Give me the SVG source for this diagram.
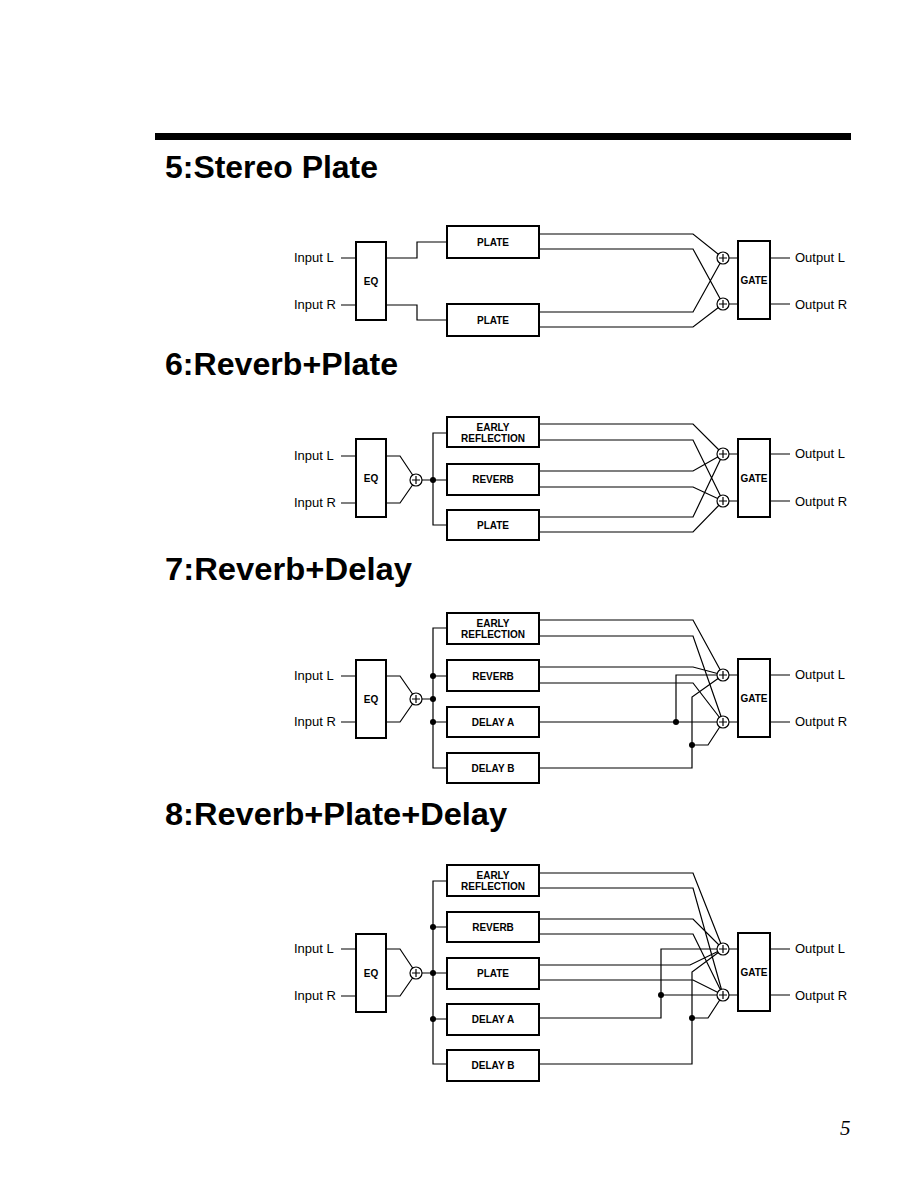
<svg xmlns="http://www.w3.org/2000/svg" width="918" height="1188" viewBox="0 0 918 1188">
<style>
.bg{fill:#fff}
.box{fill:#fff;stroke:#000;stroke-width:2}
.ln{fill:none;stroke:#000;stroke-width:1.2;stroke-linejoin:miter}
.title{font-family:"Liberation Sans",Arial,sans-serif;font-weight:bold;font-size:32px;fill:#000}
.io{font-family:"Liberation Sans",Arial,sans-serif;font-size:13px;fill:#000}
.bl{font-family:"Liberation Sans",Arial,sans-serif;font-weight:bold;font-size:10px;fill:#000;text-anchor:middle}
.pg{font-family:"Liberation Serif","Times New Roman",serif;font-style:italic;font-size:21px;fill:#000}
.dot{fill:#000}
</style>
<defs>
<g id="sum"><circle r="6" fill="#fff" stroke="#000" stroke-width="1.2"/><path d="M-4 0H4M0 -4V4" stroke="#000" stroke-width="1.2"/></g>
</defs>
<rect class="bg" x="0" y="0" width="918" height="1188"/>
<rect x="155" y="133" width="696" height="7" fill="#000"/>
<text class="title" x="165" y="178" textLength="213" lengthAdjust="spacingAndGlyphs">5:Stereo Plate</text>
<text class="title" x="165" y="375" textLength="233" lengthAdjust="spacingAndGlyphs">6:Reverb+Plate</text>
<text class="title" x="165" y="580" textLength="247" lengthAdjust="spacingAndGlyphs">7:Reverb+Delay</text>
<text class="title" x="165" y="825" textLength="342" lengthAdjust="spacingAndGlyphs">8:Reverb+Plate+Delay</text>
<text class="pg" x="840" y="1135">5</text>

<!-- ================= Diagram 5 connectors ================= -->
<g id="connectors">
<g id="c5">
<path class="ln" d="M341 258H356M341 305H356"/>
<path class="ln" d="M386 258H417V242H447M386 305H417V320H447"/>
<path class="ln" d="M539 234H693L723 258M539 249H693L723 304M539 312H693L723 258M539 327H693L723 304"/>
<path class="ln" d="M729 258H738M729 304H738M770 258H790M770 304H790"/>
</g>
<g id="c6">
<path class="ln" d="M341 456H356M341 503H356"/>
<path class="ln" d="M386 456H400L416 480M386 503H400L416 480"/>
<path class="ln" d="M422 480H447M447 433H433V525H447"/>
<path class="ln" d="M539 424H693L723 454M539 440H693L723 501M539 471H693L723 454M539 487H693L723 501M539 517H693L723 454M539 532H693L723 501"/>
<path class="ln" d="M729 454H738M729 501H738M770 454H790M770 501H790"/>
</g>
<g id="c7">
<path class="ln" d="M341 676H356M341 722H356"/>
<path class="ln" d="M386 676H400L416 699M386 722H400L416 699"/>
<path class="ln" d="M422 699H433M447 628H433V768H447M433 676H447M433 722H447"/>
<path class="ln" d="M539 620H693L723 675M539 636H693L723 722M539 667H693L723 675M539 683H693L723 722"/>
<path class="ln" d="M539 722H723M676 722V675H723M539 768H692V697L723 675M692 745H708L723 722"/>
<path class="ln" d="M729 675H738M729 722H738M770 675H790M770 722H790"/>
</g>
<g id="c8">
<path class="ln" d="M341 949H356M341 996H356"/>
<path class="ln" d="M386 949H400L416 973M386 996H400L416 973"/>
<path class="ln" d="M422 973H447M447 881H433V1064H447M433 927H447M433 1019H447"/>
<path class="ln" d="M539 873H693L723 949M539 888H693L723 995M539 919H693L723 949M539 934H693L723 995M539 965H690L723 949M539 980H693L723 995"/>
<path class="ln" d="M539 1018H661V949H723M661 995H723M539 1064H692V972L723 949M692 1018H708L723 995"/>
<path class="ln" d="M729 949H738M729 995H738M770 949H790M770 995H790"/>
</g>
<g id="dots">
<circle class="dot" cx="433" cy="480" r="3"/>
<circle class="dot" cx="433" cy="676" r="3"/>
<circle class="dot" cx="433" cy="699" r="3"/>
<circle class="dot" cx="433" cy="722" r="3"/>
<circle class="dot" cx="676" cy="722" r="3"/>
<circle class="dot" cx="692" cy="745" r="3"/>
<circle class="dot" cx="433" cy="927" r="3"/>
<circle class="dot" cx="433" cy="973" r="3"/>
<circle class="dot" cx="433" cy="1019" r="3"/>
<circle class="dot" cx="661" cy="995" r="3"/>
<circle class="dot" cx="692" cy="1018" r="3"/>
</g>
</g>

<!-- ================= Diagram 5 nodes ================= -->
<g id="d5">
<g id="d5-inL"><text class="io" x="294" y="262">Input L</text></g>
<g id="d5-inR"><text class="io" x="294" y="309">Input R</text></g>
<g id="d5-eq"><rect class="box" x="356" y="242" width="30" height="78"/><text class="bl" x="371" y="285">EQ</text></g>
<g id="d5-plate1"><rect class="box" x="447" y="226" width="92" height="32"/><text class="bl" x="493" y="246">PLATE</text></g>
<g id="d5-plate2"><rect class="box" x="447" y="304" width="92" height="32"/><text class="bl" x="493" y="324">PLATE</text></g>
<g id="d5-sumL"><use href="#sum" x="723" y="258"/></g>
<g id="d5-sumR"><use href="#sum" x="723" y="304"/></g>
<g id="d5-gate"><rect class="box" x="738" y="241" width="32" height="78"/><text class="bl" x="754" y="284">GATE</text></g>
<g id="d5-outL"><text class="io" x="795" y="262">Output L</text></g>
<g id="d5-outR"><text class="io" x="795" y="309">Output R</text></g>
</g>

<g id="d6">
<g id="d6-inL"><text class="io" x="294" y="460">Input L</text></g>
<g id="d6-inR"><text class="io" x="294" y="507">Input R</text></g>
<g id="d6-eq"><rect class="box" x="356" y="439" width="30" height="78"/><text class="bl" x="371" y="482">EQ</text></g>
<g id="d6-sum"><use href="#sum" x="416" y="480"/></g>
<g id="d6-er"><rect class="box" x="447" y="417" width="92" height="30"/><text class="bl" x="493" y="430.5">EARLY</text><text class="bl" x="493" y="441.5">REFLECTION</text></g>
<g id="d6-reverb"><rect class="box" x="447" y="464" width="92" height="31"/><text class="bl" x="493" y="483">REVERB</text></g>
<g id="d6-plate"><rect class="box" x="447" y="510" width="92" height="30"/><text class="bl" x="493" y="529">PLATE</text></g>
<g id="d6-sumL"><use href="#sum" x="723" y="454"/></g>
<g id="d6-sumR"><use href="#sum" x="723" y="501"/></g>
<g id="d6-gate"><rect class="box" x="738" y="439" width="32" height="78"/><text class="bl" x="754" y="482">GATE</text></g>
<g id="d6-outL"><text class="io" x="795" y="458">Output L</text></g>
<g id="d6-outR"><text class="io" x="795" y="506">Output R</text></g>
</g>

<g id="d7">
<g id="d7-inL"><text class="io" x="294" y="680">Input L</text></g>
<g id="d7-inR"><text class="io" x="294" y="726">Input R</text></g>
<g id="d7-eq"><rect class="box" x="356" y="660" width="30" height="78"/><text class="bl" x="371" y="703">EQ</text></g>
<g id="d7-sum"><use href="#sum" x="416" y="699"/></g>
<g id="d7-er"><rect class="box" x="447" y="613" width="92" height="31"/><text class="bl" x="493" y="627">EARLY</text><text class="bl" x="493" y="638">REFLECTION</text></g>
<g id="d7-reverb"><rect class="box" x="447" y="660" width="92" height="31"/><text class="bl" x="493" y="679.5">REVERB</text></g>
<g id="d7-delayA"><rect class="box" x="447" y="707" width="92" height="30"/><text class="bl" x="493" y="725.5">DELAY A</text></g>
<g id="d7-delayB"><rect class="box" x="447" y="753" width="92" height="30"/><text class="bl" x="493" y="771.5">DELAY B</text></g>
<g id="d7-sumL"><use href="#sum" x="723" y="675"/></g>
<g id="d7-sumR"><use href="#sum" x="723" y="722"/></g>
<g id="d7-gate"><rect class="box" x="738" y="659" width="32" height="78"/><text class="bl" x="754" y="702">GATE</text></g>
<g id="d7-outL"><text class="io" x="795" y="679">Output L</text></g>
<g id="d7-outR"><text class="io" x="795" y="726">Output R</text></g>
</g>

<g id="d8">
<g id="d8-inL"><text class="io" x="294" y="953">Input L</text></g>
<g id="d8-inR"><text class="io" x="294" y="1000">Input R</text></g>
<g id="d8-eq"><rect class="box" x="356" y="934" width="30" height="78"/><text class="bl" x="371" y="977">EQ</text></g>
<g id="d8-sum"><use href="#sum" x="416" y="973"/></g>
<g id="d8-er"><rect class="box" x="447" y="865" width="92" height="31"/><text class="bl" x="493" y="879">EARLY</text><text class="bl" x="493" y="890">REFLECTION</text></g>
<g id="d8-reverb"><rect class="box" x="447" y="912" width="92" height="30"/><text class="bl" x="493" y="930.5">REVERB</text></g>
<g id="d8-plate"><rect class="box" x="447" y="958" width="92" height="31"/><text class="bl" x="493" y="977">PLATE</text></g>
<g id="d8-delayA"><rect class="box" x="447" y="1004" width="92" height="31"/><text class="bl" x="493" y="1023">DELAY A</text></g>
<g id="d8-delayB"><rect class="box" x="447" y="1050" width="92" height="31"/><text class="bl" x="493" y="1069">DELAY B</text></g>
<g id="d8-sumL"><use href="#sum" x="723" y="949"/></g>
<g id="d8-sumR"><use href="#sum" x="723" y="995"/></g>
<g id="d8-gate"><rect class="box" x="738" y="933" width="32" height="78"/><text class="bl" x="754" y="976">GATE</text></g>
<g id="d8-outL"><text class="io" x="795" y="953">Output L</text></g>
<g id="d8-outR"><text class="io" x="795" y="1000">Output R</text></g>
</g>
</svg>
